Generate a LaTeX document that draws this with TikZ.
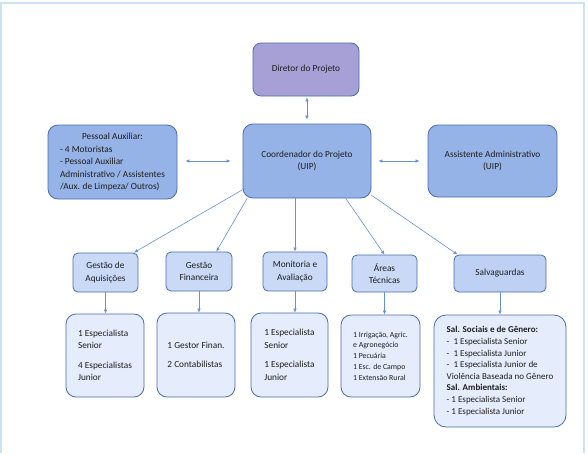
\documentclass[tikz,border=0pt]{standalone}
\usepackage{fontspec}
\setmainfont{Carlito}
\usetikzlibrary{arrows.meta}

\definecolor{fillDiretor}{RGB}{166,160,214}
\definecolor{fillCoord}{RGB}{149,179,231}
\definecolor{fillArea}{RGB}{201,217,246}
\definecolor{fillSalv}{RGB}{190,208,243}
\definecolor{fillEquipe}{RGB}{229,236,251}
\definecolor{bordaCaixa}{RGB}{76,108,172}
\definecolor{corLinha}{RGB}{100,145,215}
\definecolor{corMoldura}{RGB}{205,226,243}
\definecolor{corTexto}{RGB}{30,30,30}

\tikzset{
	caixa/.style={draw=bordaCaixa, line width=0.8pt, inner sep=0pt, align=center, text=corTexto, font=\fontsize{9.3}{12.5}\selectfont},
	caixaDiretor/.style={caixa, fill=fillDiretor, rounded corners=8pt},
	caixaCoord/.style={caixa, fill=fillCoord, rounded corners=10pt},
	caixaArea/.style={caixa, fill=fillArea, rounded corners=5pt},
	caixaEquipe/.style={caixa, fill=fillEquipe, rounded corners=10pt, align=left},
	linha/.style={draw=corLinha, line width=0.6pt},
	moldura/.style={draw=corMoldura, line width=1.5pt}
}

\begin{document}
\begin{tikzpicture}[x=1pt, y=-1pt, >={Latex[length=4pt,width=3.5pt]}]
	\useasboundingbox (0,0) rectangle (588,453);
	
	%Disegno la cornice
	\draw[moldura] (1,453) -- (1,3) -- (584,3) -- (584,453);
	
	%Disegno i nodi del primo livello
	\node (diretor) at (306,69.5) [caixaDiretor, minimum width=106pt, minimum height=53pt]{Diretor do Projeto};
	
	\node (coordenador) at (307,161) [caixaCoord, minimum width=128pt, minimum height=74pt]{Coordenador do Projeto\\(UIP)};
	
	\node (pessoal) at (112.5,162) [caixaCoord, minimum width=129pt, minimum height=74pt]{\begin{tabular}{@{}l@{}}\multicolumn{1}{@{}c@{}}{Pessoal Auxiliar:}\\- 4 Motoristas\\- Pessoal Auxiliar\\Administrativo / Assistentes\\/Aux. de Limpeza/ Outros)\end{tabular}};
	
	\node (assistente) at (492.5,161) [caixaCoord, minimum width=129pt, minimum height=72pt]{Assistente Administrativo\\(UIP)};
	
	%Disegno i collegamenti
	\draw[<->, linha, shorten <=1pt, shorten >=4pt] (coordenador.north |- diretor.south) -- (coordenador.north);
	
	\draw[<->, linha, shorten <=8pt, shorten >=12pt] (coordenador.west -| pessoal.east) -- (coordenador.west);
	
	\draw[<->, linha, shorten <=7pt, shorten >=8pt] (coordenador.east) -- (coordenador.east -| assistente.west);
	
	
	%Disegno i nodi del secondo livello
	\node (aquisicoes) at (105.5,272.5) [caixaArea, minimum width=65pt, minimum height=39pt]{Gestão de\\Aquisições};
	
	\node (financeira) at (199,271.5) [caixaArea, minimum width=66pt, minimum height=39pt]{Gestão\\Financeira};
	
	\node (monitoria) at (295,271.5) [caixaArea, minimum width=64pt, minimum height=39pt]{Monitoria e\\Avaliação};
	
	\node (tecnicas) at (384.5,273.5) [caixaArea, minimum width=65pt, minimum height=37pt]{Áreas\\Técnicas};
	
	\node (salvaguardas) at (500,273.5) [caixaArea, fill=fillSalv, minimum width=92pt, minimum height=37pt]{Salvaguardas};
	
	%Disegno i collegamenti
	\draw[->, linha] (coordenador.204) -- (aquisicoes.35);
	
	\draw[->, linha] (coordenador.212) -- (financeira.49);
	
	\draw[->, linha] (coordenador.south -| monitoria.north) -- (monitoria.north);
	
	\draw[->, linha] (coordenador.316) -- (tecnicas.north);
	
	\draw[->, linha] (coordenador.332) -- (salvaguardas.156);
	
	
	%Disegno i nodi del terzo livello
	\node (equipeAquisicoes) at (105,355.5) [caixaEquipe, minimum width=78pt, minimum height=83pt]{1 Especialista\\Senior\\[7pt]4 Especialistas\\Junior};
	
	\node (equipeFinanceira) at (196,355) [caixaEquipe, minimum width=78pt, minimum height=84pt]{1 Gestor Finan.\\[7pt]2 Contabilistas};
	
	\node (equipeMonitoria) at (289.5,355) [caixaEquipe, minimum width=77pt, minimum height=84pt]{1 Especialista\\Senior\\[7pt]1 Especialista\\Junior};
	
	\node (equipeTecnicas) at (380.5,356) [caixaEquipe, minimum width=79pt, minimum height=82pt, font=\fontsize{7.8}{10.7}\selectfont]{1 Irrigação, Agric.\\e Agronegócio\\1 Pecuária\\1 Esc. de Campo\\1 Extensão Rural};
	
	\node (equipeSalvaguardas) at (500,371) [caixaEquipe, rounded corners=12pt, minimum width=132pt, minimum height=112pt, font=\fontsize{9}{11.6}\selectfont]{\textbf{Sal. Sociais e de Gênero:}\\-~~1 Especialista Senior\\-~~1 Especialista Junior\\-~~1 Especialista Junior de\\Violência Baseada no Gênero\\\textbf{Sal. Ambientais:}\\- 1 Especialista Senior\\- 1 Especialista Junior};
	
	%Disegno i collegamenti
	\draw[->, linha] (aquisicoes.south) -- (aquisicoes.south |- equipeAquisicoes.north);
	
	\draw[->, linha] (financeira.south) -- (financeira.south |- equipeFinanceira.north);
	
	\draw[->, linha] (monitoria.south) -- (monitoria.south |- equipeMonitoria.north);
	
	\draw[->, linha] (tecnicas.south) -- (tecnicas.south |- equipeTecnicas.north);
	
	\draw[->, linha] (salvaguardas.south) -- (salvaguardas.south |- equipeSalvaguardas.north);
	
\end{tikzpicture}
\end{document}
